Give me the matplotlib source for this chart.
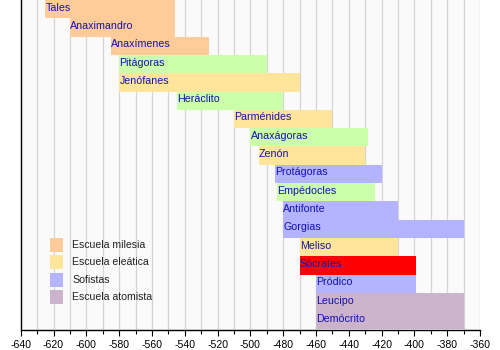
import matplotlib
matplotlib.use("Agg")
import matplotlib.pyplot as plt
from matplotlib.patches import Rectangle
from matplotlib.ticker import MultipleLocator

plt.rcParams['font.family'] = ['Liberation Sans', 'DejaVu Sans']
plt.rcParams['axes.unicode_minus'] = False

# ---- data ----
names = ["Tales", "Anaximandro", "Anaxímenes", "Pitágoras", "Jenófanes", "Heráclito",
         "Parménides", "Anaxágoras", "Zenón", "Protágoras", "Empédocles", "Antifonte",
         "Gorgias", "Meliso", "Sócrates", "Pródico", "Leucipo", "Demócrito"]
starts = [-625, -610, -585, -580, -580, -545, -510, -500, -495, -485, -484, -480,
          -480, -470, -470, -460, -460, -460]
ends = [-546, -546, -525, -490, -470, -480, -450, -428, -430, -420, -424, -410,
        -370, -410, -399, -399, -370, -370]
groups = ["milesia", "milesia", "milesia", "otros", "eleatica", "otros",
          "eleatica", "otros", "eleatica", "sofistas", "otros", "sofistas",
          "sofistas", "eleatica", "socrates", "sofistas", "atomista", "atomista"]
group_colors = {"milesia": "#ffcc99", "eleatica": "#ffe49c", "otros": "#ccffaa",
                "sofistas": "#b3b3ff", "atomista": "#ccb3cc", "socrates": "#ff0000"}
legend_labels = ["Escuela milesia", "Escuela eleática", "Sofistas", "Escuela atomista"]
legend_groups = ["milesia", "eleatica", "sofistas", "atomista"]
xmin, xmax = -640, -360

W, H = 500, 350
fig = plt.figure(figsize=(W / 100, H / 100), dpi=100)
fig.patch.set_facecolor("white")
ax = fig.add_axes([20.7 / W, 1 - 329.5 / H, (480 - 20.7) / W, 329.5 / H])
ax.set_facecolor("#fafafa")

n = len(names)
ax.set_xlim(xmin, xmax)
ax.set_ylim(n, 0)

# grid every 10 years
for gx in range(xmin + 10, xmax + 1, 10):
    ax.axvline(gx, color="#d4d4d4", lw=0.9, zorder=1)

for i, (nm, s, e, g) in enumerate(zip(names, starts, ends, groups)):
    ax.barh(i + 0.5, e - s, left=s, height=1.0, color=group_colors[g], lw=0, zorder=2)
    ax.annotate(nm, xy=(s, i + 0.58), xytext=(0.2, 0), textcoords="offset points",
                fontsize=7.7, color="#1212b0", va="baseline", ha="left", zorder=3)

ax.spines["top"].set_visible(False)
ax.spines["right"].set_visible(False)
ax.spines["left"].set_color("black")
ax.spines["bottom"].set_color("black")
ax.spines["left"].set_linewidth(1.0)
ax.spines["bottom"].set_linewidth(1.0)
ax.set_yticks([])
ax.xaxis.set_major_locator(MultipleLocator(20))
ax.xaxis.set_minor_locator(MultipleLocator(10))
ax.tick_params(axis="x", which="major", length=4.5, width=0.8, labelsize=7.6, pad=3.2, colors="black")
ax.tick_params(axis="x", which="minor", length=3, width=0.8)
ax.set_xticks(range(xmin, xmax + 1, 20))
ax.set_xticklabels([str(v) for v in range(xmin, xmax + 1, 20)])

# legend
for k, (lab, g) in enumerate(zip(legend_labels, legend_groups)):
    cy = 245 + 17.3 * k
    fig.add_artist(Rectangle((50 / W, 1 - (cy + 7) / H), 13 / W, 14 / H,
                             transform=fig.transFigure, color=group_colors[g], lw=0))
    fig.text(72.5 / W, 1 - cy / H, lab, fontsize=7.6, color="#222222", va="center", ha="left")

fig.savefig("out.png", dpi=100)
